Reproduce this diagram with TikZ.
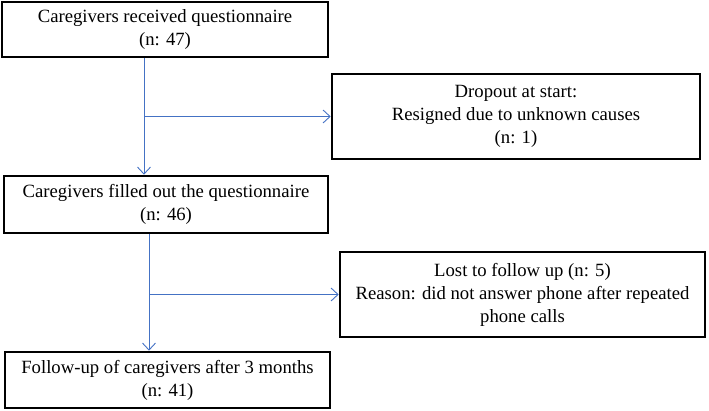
\documentclass[tikz,border=0pt]{standalone}
\usepackage{fontspec}
\setmainfont{Liberation Serif}
\usetikzlibrary{positioning,arrows.meta}
\definecolor{flowblue}{RGB}{68,114,196}
\tikzset{
  flowarrow/.style={-{Straight Barb[length=7pt, width=13pt]}, line width=0.9pt, flowblue},
  stagebox/.style={draw, line width=2.6pt, fill=white, align=center, inner sep=2pt},
  exitbox/.style={draw, line width=2.6pt, fill=white, align=center, inner sep=2pt}
}

\begin{document}
\begin{tikzpicture}[x=1pt, y=1pt, every node/.style={font=\fontsize{18.7}{23}\selectfont}]
  \useasboundingbox (0,0) rectangle (709,-411);
  \node[stagebox, minimum width=326pt, minimum height=55pt] (received) at (165,-29.5) {Caregivers received questionnaire\\(n: 47)};
  \node[exitbox, minimum width=368pt, minimum height=85pt] (dropout) at (516,-116.5) {Dropout at start:\\Resigned due to unknown causes\\(n: 1)};
  \node[stagebox, minimum width=324pt, minimum height=57pt] (filled) at (166,-204.5) {Caregivers filled out the questionnaire\\(n: 46)};
  \node[exitbox, minimum width=365pt, minimum height=85pt] (lost) at (522.5,-294.5) {Lost to follow up (n: 5)\\Reason: did not answer phone after repeated\\phone calls};
  \node[stagebox, minimum width=325pt, minimum height=56pt] (followup) at (167.5,-380) {Follow-up of caregivers after 3 months\\(n: 41)};
  \coordinate (trunkA) at (144,0);
  \coordinate (trunkB) at (149,0);
  \draw[flowarrow] (received.south -| trunkA) -- (filled.north -| trunkA);
  \draw[flowarrow] (trunkA |- dropout.west) -- (dropout.west);
  \draw[flowarrow] (filled.south -| trunkB) -- (followup.north -| trunkB);
  \draw[flowarrow] (trunkB |- lost.west) -- (lost.west);
\end{tikzpicture}
\end{document}
